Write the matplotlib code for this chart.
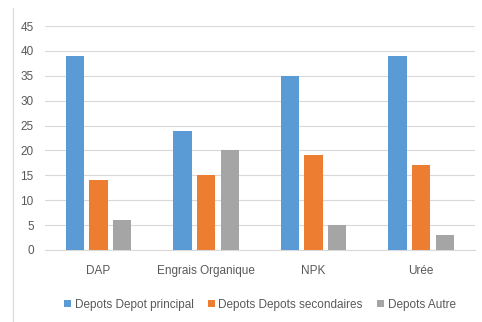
import numpy as np
import matplotlib
matplotlib.use("Agg")
import matplotlib.pyplot as plt
from matplotlib.lines import Line2D

# données
categories = ["DAP", "Engrais Organique", "NPK", "Urée"]
depot_principal = [39, 24, 35, 39]
depots_secondaires = [14, 15, 19, 17]
depot_autre = [6, 20, 5, 3]
series_noms = ["Depots Depot principal", "Depots Depots secondaires", "Depots Autre"]
couleurs = ["#5B9BD5", "#ED7D31", "#A5A5A5"]

plt.rcParams['font.family'] = ['Liberation Sans', 'DejaVu Sans']

fig = plt.figure(figsize=(4.82, 3.22), dpi=100)
ax = fig.add_axes([0.093, 0.224, 0.892, 0.695])

x = np.arange(len(categories))
largeur = 0.17
decalage = 0.22
for i, (vals, nom, c) in enumerate(zip([depot_principal, depots_secondaires, depot_autre], series_noms, couleurs)):
    ax.bar(x + (i - 1) * decalage, vals, largeur, color=c, label=nom, zorder=3)

ax.set_xlim(-0.5, len(categories) - 0.5)
ax.set_ylim(0, 45)
ax.set_yticks(range(0, 46, 5))
ax.grid(axis='y', color='#D9D9D9', linewidth=0.8, zorder=0)
for s in ['top', 'right', 'left']:
    ax.spines[s].set_visible(False)
ax.spines['bottom'].set_color('#D9D9D9')
ax.tick_params(axis='both', length=0, labelsize=8.5, colors='#595959')
ax.tick_params(axis='x', pad=11)
ax.tick_params(axis='y', pad=8)
ax.set_xticks(x)
ax.set_xticklabels(categories)

ax.legend(loc='upper center', bbox_to_anchor=(0.5, -0.17), ncol=3, frameon=False,
          fontsize=8.5, labelcolor='#595959', handlelength=0.6, handleheight=0.6,
          handletextpad=0.3, columnspacing=1.2)

# bordure gauche
fig.add_artist(Line2D([13 / 482, 13 / 482], [0, 1 - 8 / 322], transform=fig.transFigure,
                      color='#D9D9D9', linewidth=0.8))

fig.savefig("out.png", dpi=100)
